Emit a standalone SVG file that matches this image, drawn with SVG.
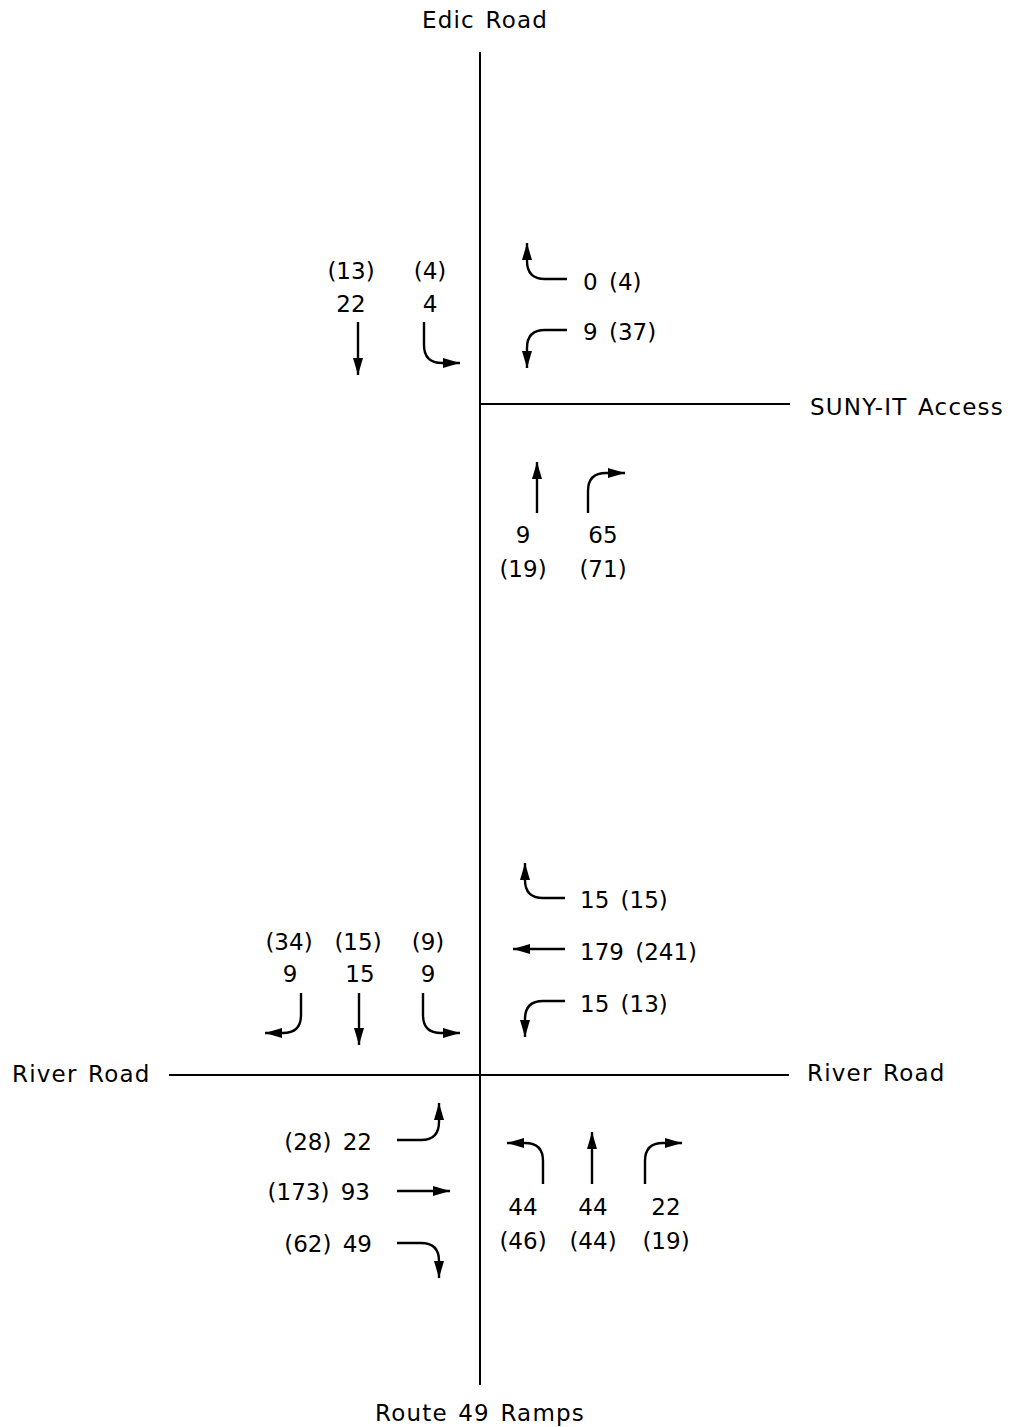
<svg xmlns="http://www.w3.org/2000/svg" width="1015" height="1427" viewBox="0 0 1015 1427">
<style>
text{font-family:"DejaVu Sans","Liberation Sans",sans-serif;font-size:23px;fill:#000;word-spacing:4px}
.lbl{letter-spacing:1.2px;word-spacing:2px}
.c{text-anchor:middle}
.e{text-anchor:end}
.road{stroke:#000;stroke-width:2;fill:none}
.arr{stroke:#000;stroke-width:2.4;fill:none;marker-end:url(#ah)}
</style>
<defs>
<marker id="ah" markerUnits="userSpaceOnUse" markerWidth="18" markerHeight="11" refX="17" refY="5" orient="auto">
<path d="M0,0 L17,5 L0,10 z" fill="#000"/>
</marker>
</defs>
<rect width="1015" height="1427" fill="#fff"/>
<g id="roads">
<line class="road" x1="480" y1="52" x2="480" y2="1385"/>
<line class="road" x1="480" y1="404" x2="790" y2="404"/>
<line class="road" x1="169" y1="1075" x2="789" y2="1075"/>
</g>
<g id="road-labels">
<text id="edic" class="lbl c" x="485" y="28">Edic Road</text>
<text id="suny" class="lbl" x="810" y="415">SUNY-IT Access</text>
<text id="river-w" class="lbl" x="12" y="1082">River Road</text>
<text id="river-e" class="lbl" x="807" y="1081">River Road</text>
<text id="route49" class="lbl c" x="480" y="1421">Route 49 Ramps</text>
</g>
<g id="connectors">
<path class="arr" d="M358,322 V375"/>
<path class="arr" d="M424,322 V345 Q424,363 442,363 H460"/>
<path class="arr" d="M567,279 H545 Q527,279 527,261 V243"/>
<path class="arr" d="M567,330 H545 Q527,330 527,348 V368"/>
<path class="arr" d="M537,513 V462"/>
<path class="arr" d="M588,513 V491 Q588,473 606,473 H625"/>
<path class="arr" d="M301,993 V1015 Q301,1033 283,1033 H265"/>
<path class="arr" d="M359,993 V1045"/>
<path class="arr" d="M423,993 V1015 Q423,1033 441,1033 H460"/>
<path class="arr" d="M565,898 H543 Q525,898 525,880 V863"/>
<path class="arr" d="M565,949 H513"/>
<path class="arr" d="M565,1001 H543 Q525,1001 525,1019 V1037"/>
<path class="arr" d="M397,1140 H421 Q439,1140 439,1122 V1103"/>
<path class="arr" d="M397,1191 H450"/>
<path class="arr" d="M397,1243 H421 Q439,1243 439,1261 V1278"/>
<path class="arr" d="M543,1184 V1161 Q543,1143 525,1143 H507"/>
<path class="arr" d="M592,1184 V1132"/>
<path class="arr" d="M645,1184 V1161 Q645,1143 663,1143 H682"/>
</g>
<g id="top-sb-thru"><text class="c" x="351" y="279">(13)</text><text class="c" x="351" y="312">22</text></g>
<g id="top-sb-right"><text class="c" x="430" y="279">(4)</text><text class="c" x="430" y="312">4</text></g>
<g id="top-wb-left"><text x="583" y="290">0 (4)</text></g>
<g id="top-wb-right"><text x="583" y="340">9 (37)</text></g>
<g id="top-nb-thru"><text class="c" x="523" y="543">9</text><text class="c" x="523" y="577">(19)</text></g>
<g id="top-nb-right"><text class="c" x="603" y="543">65</text><text class="c" x="603" y="577">(71)</text></g>
<g id="bot-sb-left"><text class="c" x="289" y="950">(34)</text><text class="c" x="290" y="982">9</text></g>
<g id="bot-sb-thru"><text class="c" x="358" y="950">(15)</text><text class="c" x="360" y="982">15</text></g>
<g id="bot-sb-right"><text class="c" x="428" y="950">(9)</text><text class="c" x="428" y="982">9</text></g>
<g id="bot-wb-left"><text x="580" y="908">15 (15)</text></g>
<g id="bot-wb-thru"><text x="580" y="960">179 (241)</text></g>
<g id="bot-wb-right"><text x="580" y="1012">15 (13)</text></g>
<g id="bot-eb-left"><text class="e" x="372" y="1150">(28) 22</text></g>
<g id="bot-eb-thru"><text class="e" x="370" y="1200">(173) 93</text></g>
<g id="bot-eb-right"><text class="e" x="372" y="1252">(62) 49</text></g>
<g id="bot-nb-left"><text class="c" x="523" y="1215">44</text><text class="c" x="523" y="1249">(46)</text></g>
<g id="bot-nb-thru"><text class="c" x="593" y="1215">44</text><text class="c" x="593" y="1249">(44)</text></g>
<g id="bot-nb-right"><text class="c" x="666" y="1215">22</text><text class="c" x="666" y="1249">(19)</text></g>
</svg>
